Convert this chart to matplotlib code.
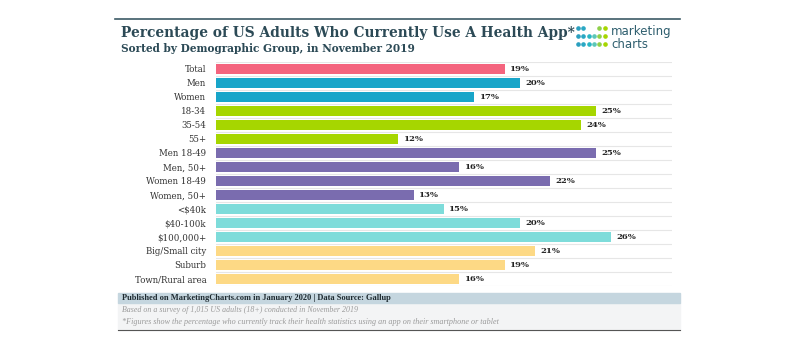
import numpy as np
import matplotlib.pyplot as plt
from matplotlib.patches import Rectangle

# data
groups = ['Total', 'Men', 'Women', '18-34', '35-54', '55+', 'Men 18-49', 'Men, 50+',
          'Women 18-49', 'Women, 50+', '<$40k', '$40-100k', '$100,000+',
          'Big/Small city', 'Suburb', 'Town/Rural area']
values = [19, 20, 17, 25, 24, 12, 25, 16, 22, 13, 15, 20, 26, 21, 19, 16]
colors = ['#F4647E', '#18A5C9', '#18A5C9', '#A6D600', '#A6D600', '#A6D600',
          '#7A6CAF', '#7A6CAF', '#7A6CAF', '#7A6CAF', '#7EDCDA', '#7EDCDA',
          '#7EDCDA', '#FDD985', '#FDD985', '#FDD985']

title = 'Percentage of US Adults Who Currently Use A Health App*'
subtitle = 'Sorted by Demographic Group, in November 2019'
source = 'Published on MarketingCharts.com in January 2020 | Data Source: Gallup'
note1 = 'Based on a survey of 1,015 US adults (18+) conducted in November 2019'
note2 = '*Figures show the percentage who currently track their health statistics using an app on their smartphone or tablet'

plt.rcParams['font.family'] = 'DejaVu Serif'
title_col = '#2C4A56'

fig = plt.figure(figsize=(8, 3.5), dpi=100)
W, H = 800, 350

def fx(px):
    return px / W

def fy(py):
    return 1 - py / H

# main bars
ax = fig.add_axes([fx(216), fy(286), fx(672) - fx(216), fy(62) - fy(286)])
y = np.arange(len(groups))
ax.barh(y, values, height=0.68, color=colors, zorder=2)
for i in range(len(groups) + 1):
    ax.axhline(i - 0.5, color='#E6E6E6', lw=0.8, zorder=1)
for yi, v in zip(y, values):
    ax.text(v + 0.35, yi, f'{v}%', va='center', ha='left', fontsize=6.1,
            fontweight='bold', color='#222222')
ax.set_xlim(0, 30)
ax.set_ylim(len(groups) - 0.5, -0.5)
ax.set_yticks(y)
ax.set_yticklabels(groups, fontsize=6.2, color='#333333')
ax.tick_params(axis='y', length=0, pad=7)
ax.set_xticks([])
for s in ax.spines.values():
    s.set_visible(False)

# header
fig.add_artist(plt.Line2D([fx(115), fx(680)], [fy(19), fy(19)], color='#3C5A66', lw=1.2))
fig.text(fx(121), fy(33), title, fontsize=9.9, fontweight='bold', color=title_col, va='center')
fig.text(fx(121), fy(49), subtitle, fontsize=7.6, fontweight='bold', color=title_col, va='center')

# logo
dot_rows = [[1, 1, 0, 0, 1, 1], [1, 1, 1, 1, 1, 1], [1, 1, 1, 1, 1, 1]]
dot_cols = ['#2A9FBF', '#2AA8C4', '#29B6C4', '#5CC7B8', '#8FD04A', '#A6D600']
for r, row in enumerate(dot_rows):
    for c, on in enumerate(row):
        if on:
            fig.add_artist(plt.Line2D([fx(578 + c * 5.3)], [fy(28 + r * 8)], marker='o',
                                      markersize=2.3, linestyle='none',
                                      color=dot_cols[c], transform=fig.transFigure))
fig.text(fx(611), fy(31), 'marketing', fontsize=8.5, color='#2E5E6E', va='center',
         family='DejaVu Sans')
fig.text(fx(611), fy(44), 'charts', fontsize=8.5, color='#2E5E6E', va='center',
         family='DejaVu Sans')

# footer
fig.add_artist(Rectangle((fx(118), fy(330)), fx(680) - fx(118), fy(303) - fy(330),
                         transform=fig.transFigure, color='#F3F4F5', zorder=0))
fig.add_artist(Rectangle((fx(118), fy(303)), fx(680) - fx(118), fy(293) - fy(303),
                         transform=fig.transFigure, color='#C5D6DF', zorder=0))
fig.add_artist(plt.Line2D([fx(118), fx(680)], [fy(330), fy(330)], color='#555555', lw=0.8))
fig.text(fx(122), fy(298), source, fontsize=6.0, fontweight='bold', color='#1E2A30',
         va='center', family='Liberation Serif')
fig.text(fx(122), fy(310), note1, fontsize=5.7, style='italic', color='#9A9A9A',
         va='center', family='Liberation Serif')
fig.text(fx(122), fy(322), note2, fontsize=5.9, style='italic', color='#9A9A9A',
         va='center', family='Liberation Serif')

fig.savefig('out.png', dpi=100, facecolor='white')
